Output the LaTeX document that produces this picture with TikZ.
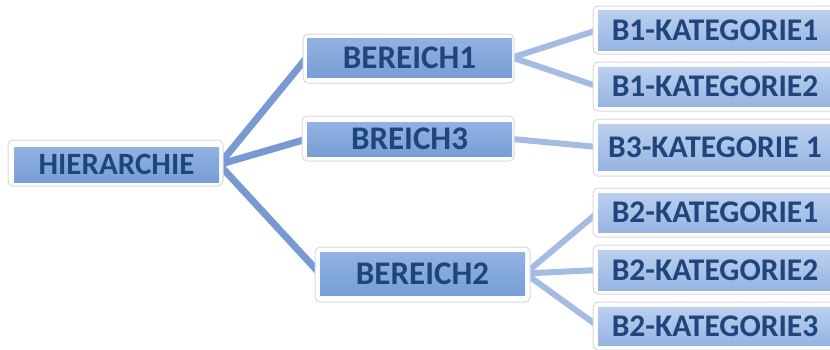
\documentclass[tikz,border=0pt]{standalone}
\usepackage{fontspec}
\setmainfont{Carlito}
\usetikzlibrary{backgrounds}
\definecolor{txt}{RGB}{32,68,124}
\definecolor{boxA}{RGB}{120,158,214}
\definecolor{boxAtop}{RGB}{146,178,226}
\definecolor{boxB}{RGB}{150,180,226}
\definecolor{boxBtop}{RGB}{188,208,238}
\definecolor{lineA}{RGB}{120,153,210}
\definecolor{lineB}{RGB}{164,188,228}
\definecolor{frame}{RGB}{214,218,224}
\begin{document}
\begin{tikzpicture}[x=1pt,y=-1pt,
  frm/.style={draw=frame, line width=1pt, fill=white, rounded corners=5pt, inner sep=0pt},
  lvA/.style={inner sep=0pt, top color=boxAtop, bottom color=boxA, text=txt,
              font=\bfseries\fontsize{31}{31}\selectfont},
  lvB/.style={inner sep=0pt, top color=boxBtop, bottom color=boxB, text=txt,
              font=\bfseries\fontsize{31.5}{31.5}\selectfont},
  conA/.style={draw=lineA, line width=7pt},
  conB/.style={draw=lineB, line width=6pt}]
\useasboundingbox (0,0) rectangle (830,349);
\clip (0,0) rectangle (830,349);
% root
\node[frm, minimum width=215pt, minimum height=46pt] (hF) at (115.5,163) {};
\node[lvA, minimum width=205pt, minimum height=35pt] (h) at (116.5,164.5) {HIERARCHIE};
% level 1
\node[frm, minimum width=211pt, minimum height=49pt] (b1F) at (408.5,58.5) {};
\node[lvA, minimum width=205pt, minimum height=39pt, font=\bfseries\fontsize{33}{33}\selectfont] (b1) at (409.5,57.5) {BEREICH1};
\node[frm, minimum width=212pt, minimum height=45pt] (b3F) at (408,138.5) {};
\node[lvA, minimum width=205pt, minimum height=34pt, font=\bfseries\fontsize{33}{33}\selectfont] (b3) at (409.5,139) {BREICH3};
\node[frm, minimum width=215pt, minimum height=55pt] (b2F) at (422.5,274.5) {};
\node[lvA, minimum width=205pt, minimum height=43pt, font=\bfseries\fontsize{33}{33}\selectfont] (b2) at (422.5,273.5) {BEREICH2};
% level 2
\node[frm, minimum width=247pt, minimum height=48pt] (k11F) at (716.5,30) {};
\node[lvB, minimum width=234pt, minimum height=40pt] (k11) at (715,30) {B1-KATEGORIE1};
\node[frm, minimum width=247pt, minimum height=49pt] (k12F) at (716.5,86.5) {};
\node[lvB, minimum width=234pt, minimum height=39pt] (k12) at (715,86.5) {B1-KATEGORIE2};
\node[frm, minimum width=247pt, minimum height=57pt] (k31F) at (716.5,147.5) {};
\node[lvB, minimum width=234pt, minimum height=46pt] (k31) at (715,147) {B3-KATEGORIE 1};
\node[frm, minimum width=247pt, minimum height=49pt] (k21F) at (716.5,212.5) {};
\node[lvB, minimum width=234pt, minimum height=39pt] (k21) at (715,212.5) {B2-KATEGORIE1};
\node[frm, minimum width=247pt, minimum height=49pt] (k22F) at (716.5,269.5) {};
\node[lvB, minimum width=234pt, minimum height=40pt] (k22) at (715,270) {B2-KATEGORIE2};
\node[frm, minimum width=247pt, minimum height=48pt] (k23F) at (716.5,326) {};
\node[lvB, minimum width=234pt, minimum height=38pt] (k23) at (715,326) {B2-KATEGORIE3};
% connectors
\begin{scope}[on background layer]
  \draw[conA] (h.east) -- (b1.west);
  \draw[conA] (h.east) -- (b3.west);
  \draw[conA] (h.east) -- (b2.west);
  \draw[conB] (b1.east) -- (k11.west);
  \draw[conB] (b1.east) -- (k12.west);
  \draw[conB] (b3.east) -- (k31.west);
  \draw[conB] (b2.east) -- (k21.west);
  \draw[conB] (b2.east) -- (k22.west);
  \draw[conB] (b2.east) -- (k23.west);
\end{scope}
\end{tikzpicture}
\end{document}
